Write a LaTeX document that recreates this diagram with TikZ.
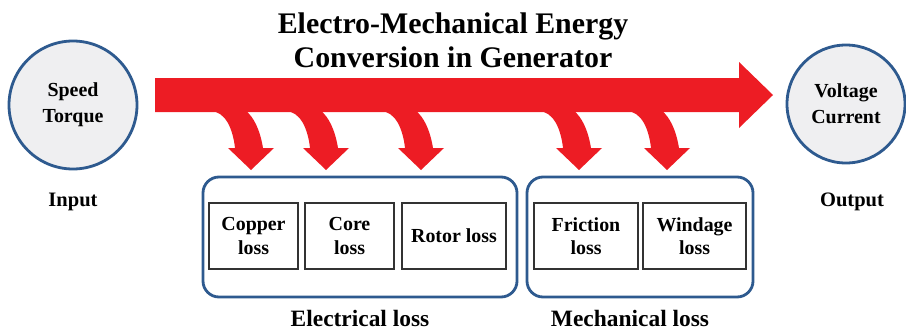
\documentclass[tikz,border=0pt]{standalone}
\usepackage{fontspec}
\setmainfont{Liberation Serif}
\usepackage{xcolor}
\usepackage{tikz}
\usetikzlibrary{calc}

\definecolor{flowred}{RGB}{237,28,36}
\definecolor{frameblue}{RGB}{46,90,143}
\definecolor{ballgray}{RGB}{239,239,241}

\begin{document}
\begin{tikzpicture}[x=0.03cm, y=-0.03cm,
    ball/.style={circle, draw=frameblue, fill=ballgray, line width=2.4pt, align=center, font=\fontsize{17}{22}\selectfont\bfseries},
    lossbox/.style={draw=black!80, line width=1.1pt, minimum height=1.98cm, inner sep=0pt, align=center, font=\fontsize{17}{20}\selectfont\bfseries},
    groupframe/.style={draw=frameblue, line width=2.4pt, rounded corners=0.48cm, minimum height=3.6cm},
    grouplabel/.style={font=\fontsize{20}{24}\selectfont\bfseries}]
    % 0. Khung hinh
    \useasboundingbox (0,0) rectangle (906,334);

    % 1. Tieu de
    \node[align=center, font=\fontsize{25.5}{29}\selectfont\bfseries] (title) at (453,40) {Electro-Mechanical Energy\\Conversion in Generator};

    % 2. Dau vao / dau ra
    \node[ball, minimum size=3.84cm] (in) at (73,105) {Speed\\Torque};
    \node[ball, minimum size=3.54cm] (out) at (846,104) {Voltage\\Current};
    \node[font=\fontsize{17.5}{21}\selectfont\bfseries] (inlabel) at (73,202) {Input};
    \node[font=\fontsize{17.5}{21}\selectfont\bfseries] (outlabel) at (852,202) {Output};

    % 3. Mui ten lon mau do
    \fill[flowred] (155,78) -- (739,78) -- (739,62) -- (773,95) -- (739,128) -- (739,112) -- (155,112) -- cycle;

    % Cac mui ten cong (ton hao)
    \foreach \tx in {251,326,421,579,667} {
        \fill[flowred] (\tx-41,111) .. controls (\tx-25,111) and (\tx-18,130) .. (\tx-16,148)
            -- (\tx-23,148) -- (\tx,170) -- (\tx+23,148) -- (\tx+12,148)
            .. controls (\tx+9,130) and (\tx+3,117) .. (\tx-6,110) -- cycle;
    }

    % 4. Khung ton hao
    \node[groupframe, minimum width=9.42cm] (elec) at (360,237) {};
    \node[groupframe, minimum width=6.78cm] (mech) at (640,237) {};

    \node[lossbox, minimum width=2.67cm] (copper) at (253.5,236) {Copper\\loss};
    \node[lossbox, minimum width=2.67cm] (core) at (349.5,236) {Core\\loss};
    \node[lossbox, minimum width=3.12cm] (rotor) at (454,236) {Rotor loss};
    \node[lossbox, minimum width=3.12cm] (friction) at (586,236) {Friction\\loss};
    \node[lossbox, minimum width=3.09cm] (windage) at (694.5,236) {Windage\\loss};

    \node[grouplabel] (eleclabel) at (360,318) {Electrical loss};
    \node[grouplabel] (mechlabel) at (630,318) {Mechanical loss};

\end{tikzpicture}
\end{document}
